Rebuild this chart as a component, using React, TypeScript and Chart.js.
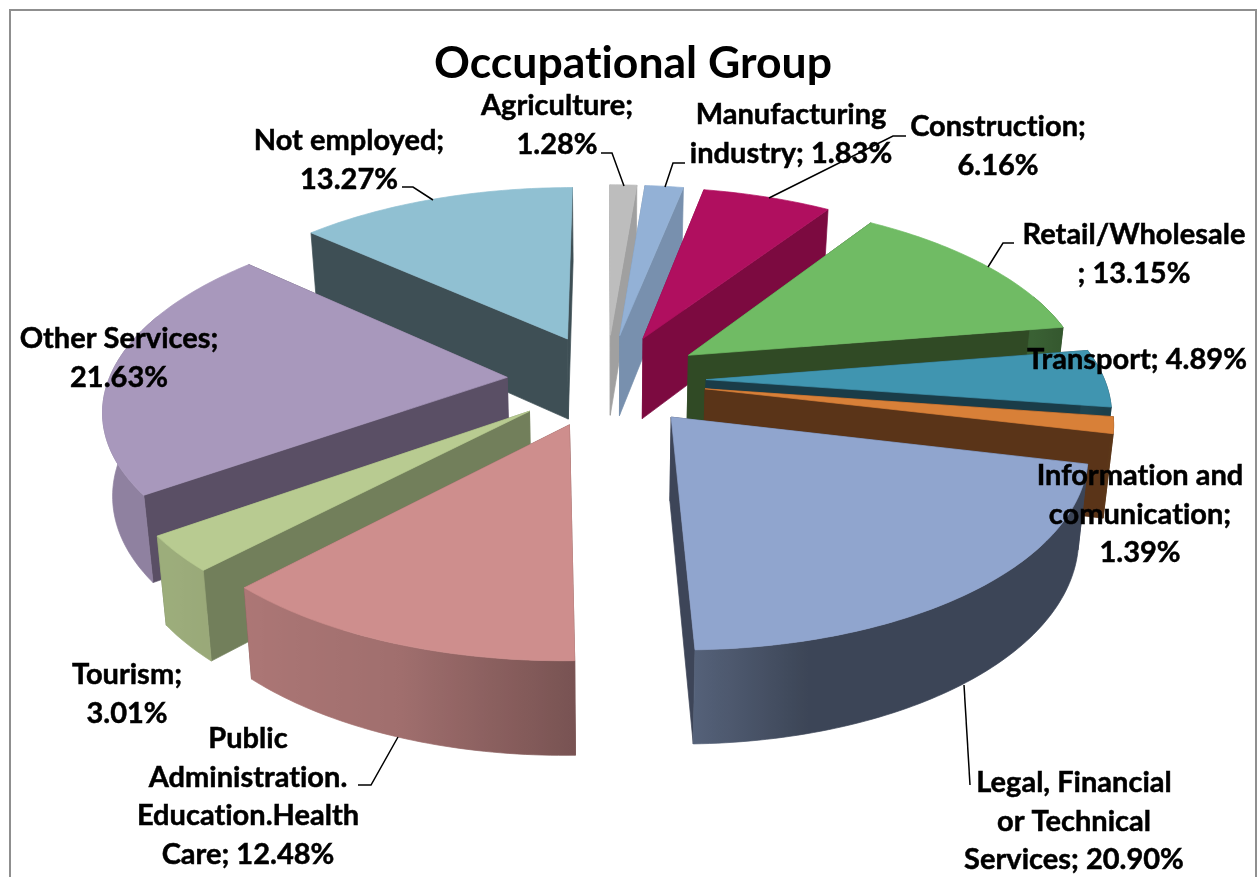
import React, { useEffect, useRef } from "react";
import { Chart, registerables } from "chart.js";

Chart.register(...registerables);

const categories = [
  "Agriculture", "Manufacturing industry", "Construction", "Retail/Wholesale", "Transport",
  "Information and comunication", "Legal, Financial or Technical Services",
  "Public Administration. Education.Health Care", "Tourism", "Other Services", "Not employed",
];
const shares = [1.28, 1.83, 6.16, 13.15, 4.89, 1.39, 20.9, 12.48, 3.01, 21.63, 13.27];
const topColors = [
  "#BDBDBD", "#93B1D6", "#B00F5F", "#70BB64", "#4095B0", "#D88038",
  "#90A5CE", "#CE8E8D", "#B8CB91", "#A898BC", "#90C0D2",
];
const wallColors = [
  "#A0A0A0", "#7890AE", "#7C0A40", "#304A25", "#1A3C48", "#5A3418",
  "#3D4558", "#7A5350", "#727F5B", "#5A4F65", "#3E4F55",
];
const labelLines = [
  ["Agriculture;", "1.28%"],
  ["Manufacturing", "industry; 1.83%"],
  ["Construction;", "6.16%"],
  ["Retail/Wholesale", "; 13.15%"],
  ["Transport; 4.89%"],
  ["Information and", "comunication;", "1.39%"],
  ["Legal, Financial", "or Technical", "Services; 20.90%"],
  ["Public", "Administration.", "Education.Health", "Care; 12.48%"],
  ["Tourism;", "3.01%"],
  ["Other Services;", "21.63%"],
  ["Not employed;", "13.27%"],
];
// Centre x and first-line centre y of each data label.
const labelAnchors = [
  [557, 106], [791, 115], [998, 127], [1134, 235], [1137, 360], [1140, 476],
  [1074, 783], [248, 739], [127, 675], [119, 339], [349, 141],
];
const leaderLines = [
  [[601, 153], [612, 153], [624, 186]],
  [[685, 163], [673, 163], [665, 187]],
  [[769, 198], [893, 136], [906, 136]],
  [[988, 267], [1003, 243], [1014, 243]],
  [],
  [],
  [[964, 685], [970, 785]],
  [[398, 737], [371, 785], [358, 785]],
  [],
  [],
  [[402, 187], [413, 187], [433, 200]],
];

const FONT_FAMILY = "Lato, 'Open Sans', sans-serif";
const LABEL_SIZE = 29;
const LINE_HEIGHT = 38.5;
const EXPLOSION = 0.25;
const VIEW = { x: 606.5, y: 380, ax: 398.5, ay: 185.5, persp: 0.15, depth: 82, depthPow: 0.7, baseShrink: 0.98 };
const rimShadeStops: number[][] = [
  [0, 0.85], [90, 0.42], [165, 0.42], [178, 0.58], [200, 0.78], [230, 0.85], [360, 0.85],
];

function project(u: number, v: number, bottom: boolean): [number, number] {
  const w = 1 - VIEW.persp * v;
  let x = (VIEW.ax * u) / w;
  let y = (VIEW.ay * v) / w;
  if (bottom) {
    x *= VIEW.baseShrink;
    y += VIEW.depth / Math.pow(w, VIEW.depthPow);
  }
  return [VIEW.x + x, VIEW.y + y];
}

function shade(hex: string, f: number): string {
  const n = parseInt(hex.slice(1), 16);
  const c = [(n >> 16) & 255, (n >> 8) & 255, n & 255].map((k) => Math.round(k * f));
  return `rgb(${c[0]},${c[1]},${c[2]})`;
}

function rimShade(deg: number): number {
  const d = ((deg % 360) + 360) % 360;
  for (let i = 1; i < rimShadeStops.length; i++) {
    const [a, fa] = rimShadeStops[i - 1];
    const [b, fb] = rimShadeStops[i];
    if (d <= b) return fa + ((fb - fa) * (d - a)) / (b - a);
  }
  return 0.85;
}

function fillPoly(ctx: CanvasRenderingContext2D, pts: [number, number][], color: any) {
  ctx.beginPath();
  pts.forEach((p, i) => (i ? ctx.lineTo(p[0], p[1]) : ctx.moveTo(p[0], p[1])));
  ctx.closePath();
  ctx.fillStyle = color;
  ctx.strokeStyle = color;
  ctx.lineWidth = 0.7;
  ctx.fill();
  ctx.stroke();
}

function extremeIndex(pts: [number, number][], sign: number): number {
  let best = 0;
  pts.forEach((p, k) => {
    if (sign * p[0] > sign * pts[best][0]) best = k;
  });
  return best;
}

const pie3d = {
  id: "pie3d",
  beforeDraw(chart: any) {
    const ctx: any = chart.ctx;
    ctx.letterSpacing = "0.01px";
    ctx.save();
    ctx.fillStyle = "#FFFFFF";
    ctx.fillRect(0, 0, chart.width, chart.height);
    ctx.strokeStyle = "#8F8F8F";
    ctx.lineWidth = 2;
    ctx.strokeRect(10, 10, 1246, 900);
    ctx.restore();
  },
  // The pie controller supplies each slice's angles; they are laid on a tilted plane here.
  beforeDatasetDraw(chart: any, args: any) {
    const ctx: CanvasRenderingContext2D = chart.ctx;
    const arcs: any[] = args.meta.data;
    const order = arcs
      .map((arc, i) => ({ arc, i, mid: (arc.startAngle + arc.endAngle) / 2 }))
      .sort((a, b) => Math.sin(a.mid) - Math.sin(b.mid));
    ctx.save();
    for (const { arc, i, mid } of order) {
      const ou = EXPLOSION * Math.cos(mid);
      const ov = EXPLOSION * Math.sin(mid);
      const steps = Math.max(2, Math.ceil(((arc.endAngle - arc.startAngle) * 180) / Math.PI));
      const angles: number[] = [];
      for (let s = 0; s <= steps; s++) angles.push(arc.startAngle + ((arc.endAngle - arc.startAngle) * s) / steps);
      const rim = angles.map((a) => [ou + Math.cos(a), ov + Math.sin(a)] as [number, number]);
      const first = rim[0];
      const last = rim[rim.length - 1];
      const wallFace = (p: [number, number]) => {
        fillPoly(
          ctx,
          [project(ou, ov, false), project(p[0], p[1], false), project(p[0], p[1], true), project(ou, ov, true)],
          wallColors[i],
        );
      };
      if (first[1] < last[1]) {
        wallFace(first);
        wallFace(last);
      } else {
        wallFace(last);
        wallFace(first);
      }
      // The curved outer face is one shape with a horizontal light gradient.
      const visible = angles.map((a, k) => ({ a, p: rim[k] })).filter((e) => Math.sin(e.a) >= -0.35);
      if (visible.length > 1) {
        const tops = visible.map((e) => project(e.p[0], e.p[1], false));
        const bottoms = visible.map((e) => project(e.p[0], e.p[1], true));
        const xs = tops.map((t) => t[0]);
        const minX = Math.min(...xs);
        const maxX = Math.max(...xs);
        const span = Math.max(maxX - minX, 1);
        const grad = ctx.createLinearGradient(minX, 0, minX + span, 0);
        visible.forEach((e, k) => {
          const deg = ((e.a + Math.PI / 2) * 180) / Math.PI;
          grad.addColorStop((xs[k] - minX) / span, shade(topColors[i], rimShade(deg)));
        });
        fillPoly(ctx, [...tops, ...[...bottoms].reverse()], grad);
        // Close the silhouette between the widest points of the top and base outlines.
        for (const sign of [-1, 1]) {
          const kt = extremeIndex(tops, sign);
          const kb = extremeIndex(bottoms, sign);
          if (kt !== kb) fillPoly(ctx, [tops[kt], bottoms[kb], tops[kb]], grad);
        }
      }
      const top: [number, number][] = [project(ou, ov, false), ...rim.map((p) => project(p[0], p[1], false))];
      fillPoly(ctx, top, topColors[i]);
    }
    ctx.restore();
    return false;
  },
  afterDatasetsDraw(chart: any) {
    const ctx: CanvasRenderingContext2D = chart.ctx;
    ctx.save();
    ctx.strokeStyle = "#000000";
    ctx.lineWidth = 1.5;
    for (const line of leaderLines) {
      if (!line.length) continue;
      ctx.beginPath();
      line.forEach((p, i) => (i ? ctx.lineTo(p[0], p[1]) : ctx.moveTo(p[0], p[1])));
      ctx.stroke();
    }
    ctx.fillStyle = "#000000";
    ctx.lineWidth = 0.5;
    ctx.font = `bold ${LABEL_SIZE}px ${FONT_FAMILY}`;
    ctx.textAlign = "center";
    ctx.textBaseline = "middle";
    labelLines.forEach((lines, i) => {
      lines.forEach((text, k) => {
        const y = labelAnchors[i][1] + k * LINE_HEIGHT;
        ctx.fillText(text, labelAnchors[i][0], y);
        ctx.strokeText(text, labelAnchors[i][0], y);
      });
    });
    ctx.restore();
  },
};

export default function App() {
  const ref = useRef<HTMLCanvasElement>(null);
  useEffect(() => {
    const chart = new Chart(ref.current as HTMLCanvasElement, {
      type: "pie",
      data: {
        labels: categories,
        datasets: [{ data: shares, backgroundColor: topColors, borderWidth: 0 }],
      },
      options: {
        animation: false,
        responsive: false,
        layout: { padding: { left: 8 } },
        plugins: {
          legend: { display: false },
          tooltip: { enabled: false },
          title: {
            display: true,
            text: "Occupational Group",
            color: "#000000",
            font: { family: FONT_FAMILY, size: 44.5, weight: "bold" },
            padding: { top: 37, bottom: 10 },
          },
        },
      },
      plugins: [pie3d],
    } as any);
    return () => chart.destroy();
  }, []);
  return (
    <div style={{ position: "absolute", left: 0, top: 0, width: 1258, height: 877, overflow: "hidden" }}>
      <canvas ref={ref} width={1258} height={877} style={{ display: "block" }} />
    </div>
  );
}
